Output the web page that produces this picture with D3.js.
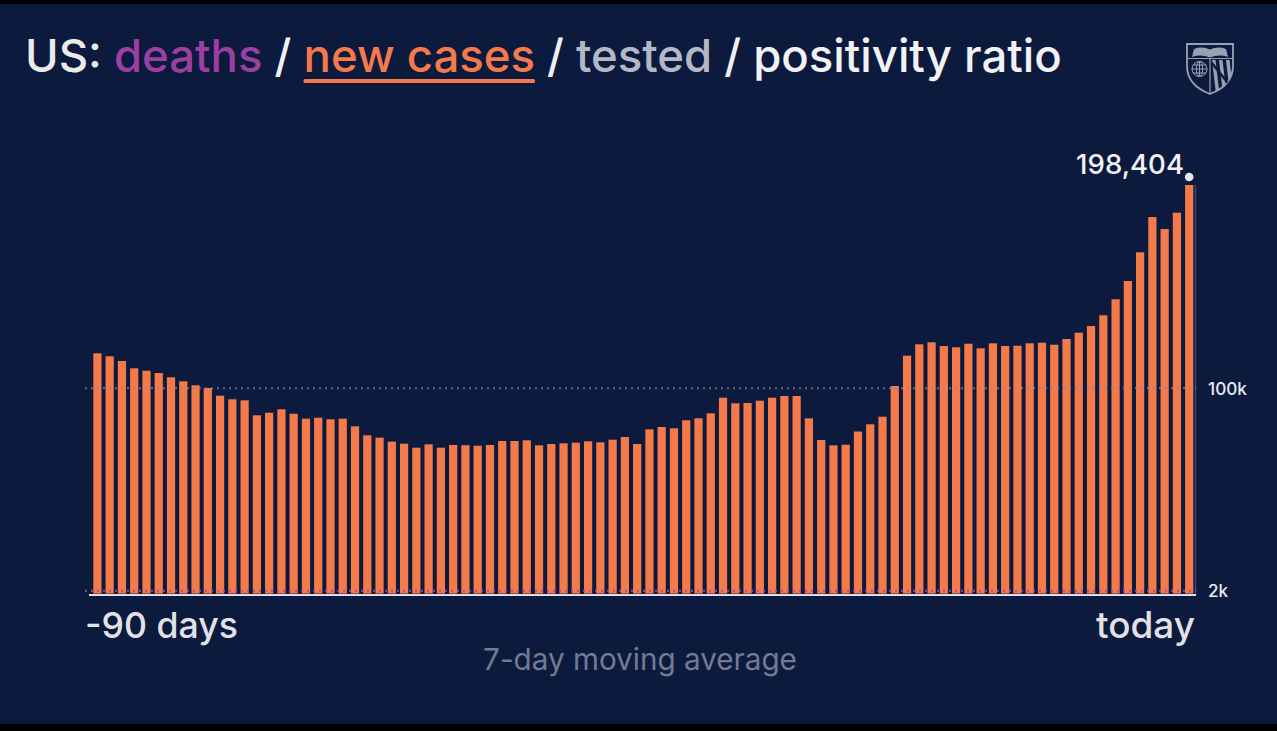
<!DOCTYPE html>
<html>
<head>
<meta charset="utf-8">
<script src="https://cdn.jsdelivr.net/npm/d3@7"></script>
<style>
  html, body { margin: 0; padding: 0; background: #000; }
  svg { display: block; }
  text { white-space: pre; }
</style>
</head>
<body>
<script>
// ---- data (7-day moving average of US new cases, last 90 days) ----
const cases = [
  116960,115510,113230,109700,108540,107430,105350,103410,101470,100170,
  96440,94700,94210,86960,88210,89860,87730,85310,85800,85020,
  85310,81630,77280,76120,74180,73210,71280,72920,71280,72590,
  72490,72250,72590,74520,74520,74860,72440,73070,73410,73700,
  74380,73890,75150,76460,73070,80180,81300,80670,84540,85510,
  87930,95470,92760,92910,94020,95470,96300,96300,85510,75000,
  72440,72730,79120,82600,86280,101140,115800,121310,122280,120490,
  119860,121600,119380,121800,120490,120640,121800,122090,121120,123880,
  126930,130170,135350,143090,151940,165830,182910,177110,185000,198404
];
const days = cases.map((d, i) => i - (cases.length - 1));   // -89 .. 0
const gridValues = [2000, 100000];
const gridLabels = ["2k", "100k"];
const titleParts = [
  { text: "US: ", color: "#ecebec" },
  { text: "deaths", color: "#9b3fa0" },
  { text: " / ", color: "#f0eff2" },
  { text: "new cases", color: "#f47a4c", underline: true },
  { text: " / ", color: "#f0eff2" },
  { text: "tested", color: "#b4b8c4" },
  { text: " / ", color: "#f0eff2" },
  { text: "positivity ratio", color: "#f2f1f3" }
];
const latestLabel = "198,404";
const xStartLabel = "-90 days";
const xEndLabel = "today";
const footnote = "7-day moving average";

// ---- setup ----
const W = 1277, H = 731;
const FONT = "Inter, 'Open Sans', sans-serif";
const svg = d3.select("body").append("svg").attr("width", W).attr("height", H);

svg.append("rect").attr("width", W).attr("height", H).attr("fill", "#000");
svg.append("rect").attr("x", 0).attr("y", 4).attr("width", W).attr("height", 720).attr("fill", "#0c1a3e");

const x = d3.scaleBand().domain(days).range([93.3, 1193.3]).paddingInner(0.33).paddingOuter(0);
const y = d3.scaleLinear().domain([0, d3.max(cases)]).range([595, 185]);

function fit(sel, w) {
  const base = +sel.attr("font-size");
  const len = sel.node().getComputedTextLength();
  sel.attr("font-size", base * w / len);
  return sel;
}

// ---- bars ----
svg.append("g").selectAll("rect").data(cases).join("rect")
  .attr("x", (d, i) => x(days[i]))
  .attr("width", x.bandwidth())
  .attr("y", d => y(d))
  .attr("height", d => y(0) - y(d) - 1.5)
  .attr("fill", "#f47a4a");

// right edge line
svg.append("line")
  .attr("x1", 1195.5).attr("x2", 1195.5)
  .attr("y1", y(d3.max(cases))).attr("y2", y(0))
  .attr("stroke", "#34477a").attr("stroke-width", 1.5);

// ---- gridlines ----
const grid = svg.append("g");
grid.selectAll("line").data(gridValues).join("line")
  .attr("x1", 85).attr("x2", 1196)
  .attr("y1", d => y(d)).attr("y2", d => y(d))
  .attr("stroke", d => d === 2000 ? "#a2509e" : "#7d88b0")
  .attr("stroke-width", 2)
  .attr("stroke-dasharray", "2,4")
  .attr("opacity", d => d === 2000 ? 0.9 : 0.75);

// baseline
svg.append("line")
  .attr("x1", 89).attr("x2", 1196)
  .attr("y1", y(0)).attr("y2", y(0))
  .attr("stroke", "#e4dcee").attr("stroke-width", 2);

// axis labels (right)
svg.append("g").selectAll("text").data(gridValues).join("text")
  .attr("x", 1208)
  .attr("y", d => y(d))
  .attr("dominant-baseline", "central")
  .attr("font-family", FONT).attr("font-weight", 500)
  .attr("font-size", 16)
  .attr("fill", "#e9e9ef")
  .text((d, i) => gridLabels[i])
  .each(function(d, i) { fit(d3.select(this), i === 0 ? 20 : 39); });

// ---- latest value annotation ----
const lastX = x(days[days.length - 1]) + x.bandwidth() / 2;
svg.append("circle")
  .attr("cx", lastX).attr("cy", y(d3.max(cases)) - 8)
  .attr("r", 4.3).attr("fill", "#e6e6ec");
fit(svg.append("text")
  .attr("x", 1184).attr("y", 174)
  .attr("text-anchor", "end")
  .attr("font-family", FONT).attr("font-weight", 500)
  .attr("font-size", 28).attr("fill", "#f2f2f5")
  .text(latestLabel), 108);

// ---- title ----
const title = svg.append("text")
  .attr("x", 25).attr("y", 72)
  .attr("font-family", FONT).attr("font-weight", 500)
  .attr("font-size", 44);
const tspans = title.selectAll("tspan").data(titleParts).join("tspan")
  .attr("fill", d => d.color)
  .text(d => d.text);
fit(title, 1037);
tspans.each(function(d, i) {
  if (!d.underline) return;
  const n = title.node();
  // compute start/end x of this tspan's characters
  let start = 0;
  for (let k = 0; k < i; k++) start += titleParts[k].text.length;
  const s = n.getStartPositionOfChar(start).x;
  const e = n.getEndPositionOfChar(start + d.text.length - 1).x;
  svg.append("rect")
    .attr("x", s).attr("y", 79).attr("width", e - s).attr("height", 4)
    .attr("rx", 1.5).attr("fill", d.color);
});

// ---- x labels ----
fit(svg.append("text")
  .attr("x", 85).attr("y", 638)
  .attr("font-family", FONT).attr("font-weight", 500)
  .attr("font-size", 32).attr("fill", "#e2e1e6")
  .text(xStartLabel), 153);
fit(svg.append("text")
  .attr("x", 1195).attr("y", 638)
  .attr("text-anchor", "end")
  .attr("font-family", FONT).attr("font-weight", 500)
  .attr("font-size", 32).attr("fill", "#e2e1e6")
  .text(xEndLabel), 99);
fit(svg.append("text")
  .attr("x", 640).attr("y", 670)
  .attr("text-anchor", "middle")
  .attr("font-family", FONT).attr("font-weight", 400)
  .attr("font-size", 24).attr("fill", "#737a92")
  .text(footnote), 314);

// ---- logo (shield) ----
const logo = svg.append("g");
const lc = "#9aa0b4";
const shieldPath = "M1187,44 H1233 V66 C1233,81 1223,89 1210,94 C1197,89 1187,81 1187,66 Z";
svg.append("clipPath").attr("id", "shieldClip").append("path").attr("d", shieldPath);
logo.append("path").attr("d", shieldPath).attr("fill", "#0c1a3e")
  .attr("stroke", lc).attr("stroke-width", 1.8);
// open book on top
logo.append("path")
  .attr("d", "M1192,57 L1194,49 Q1202,46 1210,49.5 Q1218,46 1226,49 L1228,57 Q1219,54 1210,57.5 Q1201,54 1192,57 Z")
  .attr("fill", lc);
logo.append("line").attr("x1", 1188).attr("x2", 1232).attr("y1", 58.5).attr("y2", 58.5)
  .attr("stroke", lc).attr("stroke-width", 1.2);
logo.append("line").attr("x1", 1210).attr("x2", 1210).attr("y1", 58.5).attr("y2", 93)
  .attr("stroke", lc).attr("stroke-width", 1.2);
// globe
const gl = logo.append("g").attr("stroke", lc).attr("fill", "none").attr("stroke-width", 1);
gl.append("circle").attr("cx", 1199.5).attr("cy", 69).attr("r", 7.5);
gl.append("ellipse").attr("cx", 1199.5).attr("cy", 69).attr("rx", 3.2).attr("ry", 7.5);
gl.append("line").attr("x1", 1192).attr("x2", 1207).attr("y1", 69).attr("y2", 69);
gl.append("line").attr("x1", 1193).attr("x2", 1206).attr("y1", 65).attr("y2", 65);
gl.append("line").attr("x1", 1193).attr("x2", 1206).attr("y1", 73).attr("y2", 73);
gl.append("line").attr("x1", 1199.5).attr("x2", 1199.5).attr("y1", 61.5).attr("y2", 76.5);
// Maryland pattern
const md = logo.append("g").attr("clip-path", "url(#shieldClip)").attr("fill", lc);
[1212, 1219, 1226].forEach(px => {
  md.append("path").attr("d", `M${px},60 h3.5 l4,34 h-3.5 Z`);
});
md.append("path").attr("d", "M1211,60 L1232,86 L1232,90 L1211,64 Z").attr("fill", "#0c1a3e");
</script>
</body>
</html>
